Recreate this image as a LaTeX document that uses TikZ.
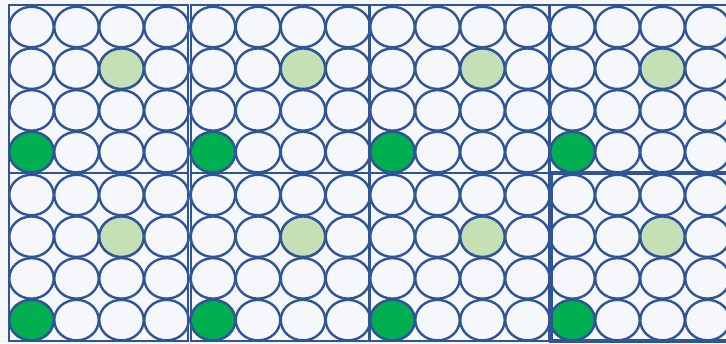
\documentclass[tikz,border=0pt]{standalone}
\usetikzlibrary{shapes.geometric}

\definecolor{wellblue}{HTML}{2F5597}
\definecolor{platebg}{HTML}{F5F7FB}
\definecolor{hitlight}{HTML}{C5E0B4}
\definecolor{hitdark}{HTML}{00B050}

\begin{document}
\begin{tikzpicture}[x=1pt,y=-1pt,
    well/.style={ellipse,draw=wellblue,line width=2.4pt,fill=platebg,
      minimum width=44.5pt,minimum height=40.5pt,inner sep=0pt},
    lighthit/.style={well,fill=hitlight},
    darkhit/.style={well,fill=hitdark},
    plate/.style={draw=wellblue,line width=2pt}]
  \useasboundingbox (0,0) rectangle (726,343);
  \fill[platebg] (0,0) rectangle (726,343);
  \clip (0,0) rectangle (726,343);
  % eight plates, 4x4 wells each
  \foreach \row/\py in {1/5,2/173}{
    \foreach \col/\px in {1/9,2/190.5,3/370,4/550}{
      \foreach \r in {1,...,4}{
        \foreach \c in {1,...,4}{
          \node[well] (w-\row-\col-\r-\c) at (\px+22.5+45*\c-45,\py+22+41.7*\r-41.7) {};
        }
      }
      \node[lighthit] (w-\row-\col-2-3) at (\px+22.5+90,\py+22+41.7) {};
      \node[darkhit] (w-\row-\col-4-1) at (\px+22.5,\py+22+125.1) {};
    }
  }
  % plate frames
  \foreach \py in {5,173}{
    \foreach \px in {9,190.5,370}{
      \draw[plate] (\px,\py) rectangle ++(178.5,167.5);
    }
  }
  \draw[plate,line width=2.8pt] (550,5) rectangle ++(180,167);
  \draw[plate,line width=4pt] (551,173) rectangle ++(180,167.5);
\end{tikzpicture}
\end{document}
